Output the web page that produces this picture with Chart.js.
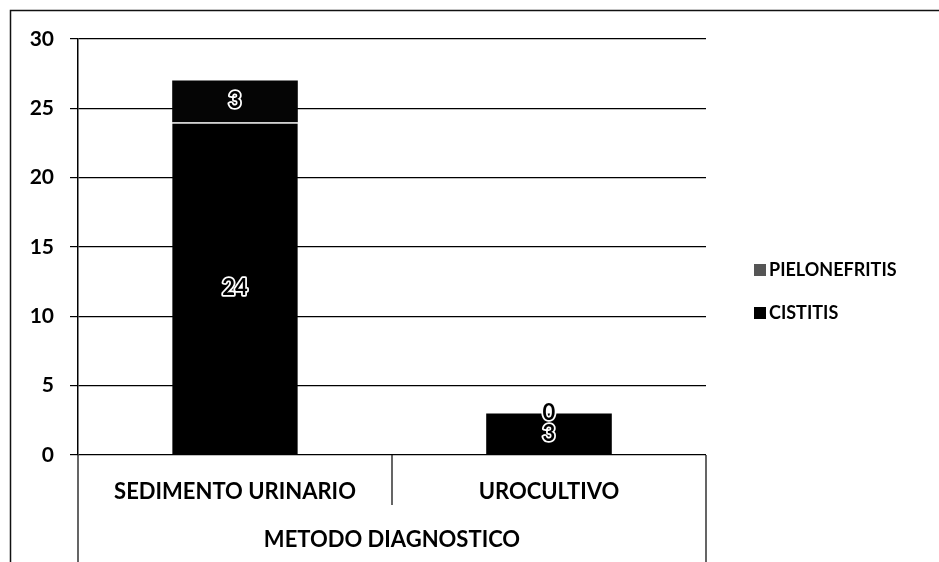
<!DOCTYPE html>
<html>
<head>
<meta charset="utf-8">
<style>
  html, body { margin: 0; padding: 0; background: #ffffff; }
  #wrap { width: 939px; height: 562px; }
</style>
<script src="https://cdn.jsdelivr.net/npm/chart.js@4.4.1/dist/chart.umd.min.js"></script>
</head>
<body>
<div id="wrap"><canvas id="chart" width="939" height="562"></canvas></div>
<script>
// Casos por método diagnóstico
const categories = ['SEDIMENTO URINARIO', 'UROCULTIVO'];
const cistitis = [24, 3];
const pielonefritis = [3, 0];
const yTicks = [0, 5, 10, 15, 20, 25, 30];
const axisTitle = 'METODO DIAGNOSTICO';

const FONT = 'Lato';

// Frame, category dividers, value labels and legend
const decorations = {
  id: 'decorations',
  beforeDraw(chart) {
    const ctx = chart.ctx;
    ctx.save();
    ctx.fillStyle = '#ffffff';
    ctx.fillRect(0, 0, chart.width, chart.height);
    ctx.strokeStyle = '#111';
    ctx.lineWidth = 1.5;
    ctx.beginPath();
    ctx.moveTo(10.5, chart.height);
    ctx.lineTo(10.5, 10.5);
    ctx.lineTo(chart.width, 10.5);
    ctx.stroke();
    ctx.restore();
  },
  afterDraw(chart) {
    const ctx = chart.ctx;
    const area = chart.chartArea;
    const x = chart.scales.x;
    ctx.save();
    ctx.strokeStyle = '#000';
    ctx.lineWidth = 1.2;
    // category box lines below the axis
    ctx.beginPath();
    ctx.moveTo(area.left, area.bottom);
    ctx.lineTo(area.left, chart.height);
    ctx.moveTo(area.right, area.bottom);
    ctx.lineTo(area.right, chart.height);
    const mid = (x.getPixelForValue(0) + x.getPixelForValue(1)) / 2;
    ctx.moveTo(mid, area.bottom);
    ctx.lineTo(mid, area.bottom + 50);
    ctx.stroke();

    // value labels (outlined text)
    ctx.font = 'bold 22px ' + FONT;
    ctx.textAlign = 'center';
    ctx.textBaseline = 'middle';
    ctx.lineJoin = 'round';
    chart.data.datasets.forEach((ds, di) => {
      const meta = chart.getDatasetMeta(di);
      meta.data.forEach((bar, i) => {
        const v = ds.data[i];
        const y = v === 0 ? bar.y : (bar.y + bar.base) / 2;
        ctx.lineWidth = 3.5;
        ctx.strokeStyle = '#ffffff';
        ctx.strokeText(String(v), bar.x, y);
        ctx.fillStyle = '#000';
        ctx.fillText(String(v), bar.x, y);
      });
    });

    // legend, last series on top
    ctx.font = 'bold 18px ' + FONT;
    ctx.textAlign = 'left';
    ctx.textBaseline = 'middle';
    const items = chart.data.datasets.slice().reverse();
    items.forEach((ds, k) => {
      const cy = 270 + k * 43;
      ctx.fillStyle = ds.legendSwatch;
      ctx.fillRect(754, cy - 6, 12, 12);
      ctx.fillStyle = '#000';
      ctx.fillText(ds.label, 769, cy);
    });
    ctx.restore();
  }
};

new Chart(document.getElementById('chart'), {
  type: 'bar',
  data: {
    labels: categories,
    datasets: [
      {
        label: 'CISTITIS',
        data: cistitis,
        backgroundColor: '#000000',
        legendSwatch: '#000000',
        borderColor: '#dcdcdc',
        borderWidth: (c) => ({ top: c.dataIndex === 0 ? 1.5 : 0, left: 0, right: 0, bottom: 0 }),
        borderSkipped: false,
        categoryPercentage: 1,
        barPercentage: 0.4
      },
      {
        label: 'PIELONEFRITIS',
        data: pielonefritis,
        backgroundColor: '#050505',
        legendSwatch: '#555555',
        borderWidth: 0,
        categoryPercentage: 1,
        barPercentage: 0.4
      }
    ]
  },
  options: {
    responsive: false,
    animation: false,
    layout: { padding: { left: 0, right: 233, top: 39, bottom: 0 } },
    plugins: {
      legend: { display: false },
      tooltip: { enabled: false },
      title: { display: false }
    },
    scales: {
      x: {
        stacked: true,
        grid: { display: false },
        border: { display: false },
        ticks: {
          color: '#000',
          padding: 16,
          font: { family: FONT, size: 22, weight: 'bold' }
        },
        title: {
          display: true,
          text: axisTitle,
          color: '#000',
          font: { family: FONT, size: 22, weight: 'bold' },
          padding: { top: 0, bottom: 9 }
        },
        afterFit(scale) { scale.height = 107; }
      },
      y: {
        stacked: true,
        min: 0,
        max: 30,
        afterBuildTicks(scale) { scale.ticks = yTicks.map(v => ({ value: v })); },
        grid: { color: '#000', lineWidth: 1.2, tickLength: 8, drawTicks: true },
        border: { display: true, color: '#000', width: 1.5 },
        ticks: {
          color: '#000',
          padding: 16,
          font: { family: FONT, size: 21, weight: 'bold' }
        },
        afterFit(scale) { scale.width = 78; }
      }
    }
  },
  plugins: [decorations]
});
</script>
</body>
</html>
